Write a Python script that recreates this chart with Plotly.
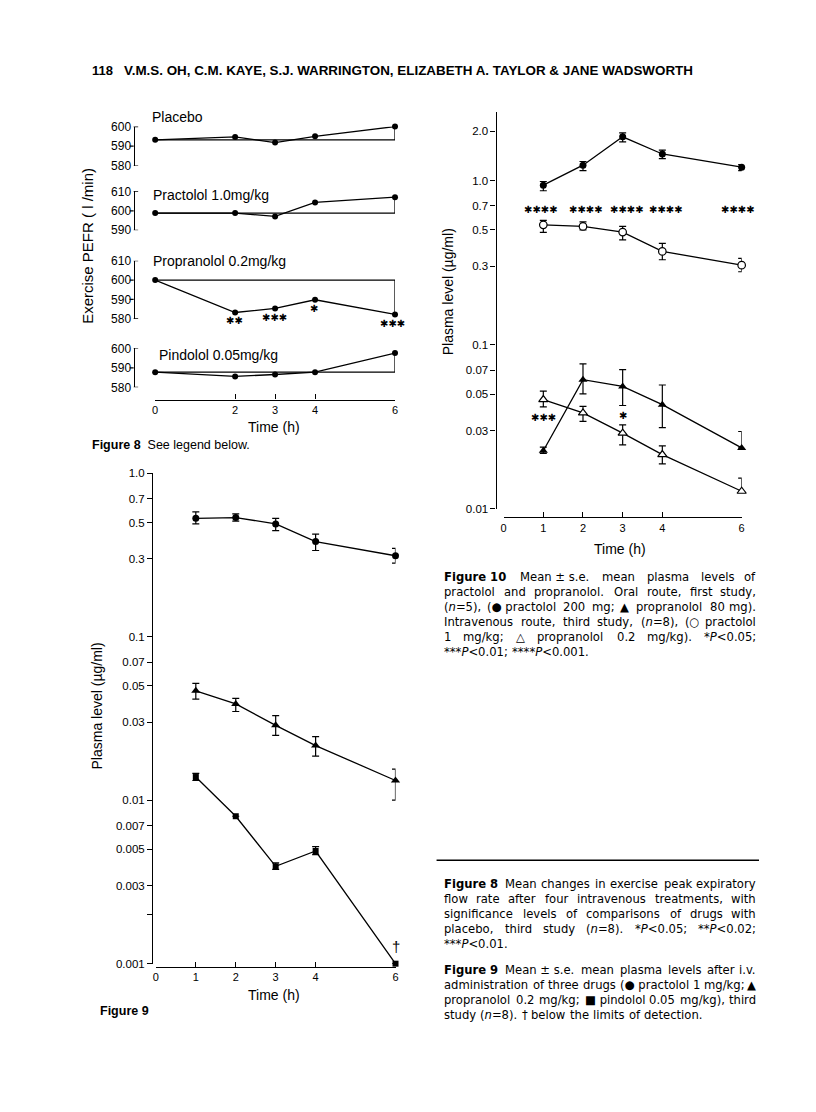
import plotly.graph_objects as go
import re

W, H = 816, 1112
# page-placement correction measured from a test frame (render = A + B * intended)
AX, BX = 4.03, 0.9913
AY, BY = 6.05, 0.9882
def px(x): return ((x - AX) / BX) / W
def py(y): return 1 - ((y - AY) / BY) / H

FONT = "Liberation Sans, Arial, sans-serif"
CAPFONT = "DejaVu Sans"
SYM = "DejaVu Sans"

# ---------------- Figure 8 data (PEFR, l/min) ----------------
t8 = [0, 2, 3, 4, 6]
pefr_titles = ["Placebo", "Practolol 1.0mg/kg", "Propranolol 0.2mg/kg", "Pindolol 0.05mg/kg"]
pefr_placebo = [593.2, 594.7, 591.8, 595.0, 600.0]
pefr_practolol = [598.8, 598.8, 597.1, 604.3, 607.0]
pefr_propranolol = [600.0, 583.2, 585.3, 589.8, 582.2]
pefr_pindolol = [587.8, 585.6, 586.6, 587.8, 597.6]
pefr_ranges = [[580, 600], [590, 610], [580, 610], [580, 600]]
pefr_ticks = [[580, 590, 600], [590, 600, 610], [580, 590, 600, 610], [580, 590, 600]]
t8_ticks = [0, 2, 3, 4, 6]
prop_sig_labels = ["**", "***", "*", "***"]

# ---------------- Figure 9 data (plasma, ug/ml, i.v.) ----------------
t9 = [1, 2, 3, 4, 6]
f9_prac = [0.53, 0.536, 0.49, 0.382, 0.313]
f9_prac_hi = [0.58, 0.565, 0.53, 0.424, 0.347]
f9_prac_lo = [0.49, 0.51, 0.446, 0.337, 0.282]
f9_prop = [0.0467, 0.0388, 0.0287, 0.0216, 0.0132]
f9_prop_hi = [0.0519, 0.042, 0.0329, 0.0245, 0.0155]
f9_prop_lo = [0.0415, 0.0349, 0.0249, 0.0186, 0.0100]
f9_pind = [0.01386, 0.00798, 0.00394, 0.00489, 0.001]
f9_pind_hi = [0.0146, 0.00798, 0.00414, 0.0052, 0.001]
f9_pind_lo = [0.0132, 0.00798, 0.00378, 0.00465, 0.001]
f9_ticks = [1.0, 0.7, 0.5, 0.3, 0.1, 0.07, 0.05, 0.03, 0.01, 0.007, 0.005, 0.003, 0.002, 0.001]
f9_ticktext = ["1.0", "0.7", "0.5", "0.3", "0.1", "0.07", "0.05", "0.03", "0.01", "0.007", "0.005", "0.003", "", "0.001"]
t9_ticks = [0, 1, 2, 3, 4, 6]

# ---------------- Figure 10 data ----------------
t10 = [1, 2, 3, 4, 6]
oral_prac = [0.937, 1.24, 1.845, 1.45, 1.206]
oral_prac_hi = [0.986, 1.305, 1.95, 1.53, 1.25]
oral_prac_lo = [0.866, 1.15, 1.72, 1.36, 1.15]
iv_prac = [0.537, 0.525, 0.485, 0.370, 0.305]
iv_prac_hi = [0.571, 0.56, 0.525, 0.414, 0.335]
iv_prac_lo = [0.483, 0.50, 0.435, 0.329, 0.278]
oral_prop = [0.0226, 0.0612, 0.0557, 0.0431, 0.0235]
oral_prop_hi = [0.0238, 0.0763, 0.0705, 0.0568, 0.0296]
oral_prop_lo = [0.0218, 0.0501, 0.0426, 0.0312, 0.0235]
iv_prop = [0.0463, 0.0384, 0.0289, 0.0214, 0.0128]
iv_prop_hi = [0.0521, 0.0421, 0.0325, 0.0242, 0.0154]
iv_prop_lo = [0.0418, 0.0341, 0.0245, 0.0188, 0.0128]
f10_ticks = [2.0, 1.0, 0.7, 0.5, 0.3, 0.1, 0.07, 0.05, 0.03, 0.01]
f10_ticktext = ["2.0", "1.0", "0.7", "0.5", "0.3", "0.1", "0.07", "0.05", "0.03", "0.01"]
t10_ticks = [0, 1, 2, 3, 4, 6]
prac_sig_times = [1, 2, 3, 4, 6]
prop_sig10_labels = ["***", "*"]
prop_sig10_times = [1, 3]

# ---------------- caption texts (token lists) ----------------
cap10 = [["<b>Figure 10</b>", "Mean ± s.e.", "mean", "plasma", "levels", "of"],
         ["practolol", "and", "propranolol.", "Oral", "route,", "first", "study,"],
         ["(<i>n</i>=5),", "(● practolol", "200", "mg;", "▲", "propranolol", "80", "mg)."],
         ["Intravenous", "route,", "third", "study,", "(<i>n</i>=8),", "(○", "practolol"],
         ["1", "mg/kg;", "△", "propranolol", "0.2", "mg/kg).", "*<i>P</i>&lt;0.05;"],
         ["***<i>P</i>&lt;0.01;", "****<i>P</i>&lt;0.001."]]
cap8 = [["<b>Figure 8</b>", "Mean", "changes", "in", "exercise", "peak", "expiratory"],
        ["flow", "rate", "after", "four", "intravenous", "treatments,", "with"],
        ["significance", "levels", "of", "comparisons", "of", "drugs", "with"],
        ["placebo,", "third", "study", "(<i>n</i>=8).", "*<i>P</i>&lt;0.05;", "**<i>P</i>&lt;0.02;"],
        ["***<i>P</i>&lt;0.01."]]
cap9 = [["<b>Figure 9</b>", "Mean ± s.e.", "mean", "plasma", "levels", "after", "i.v."],
        ["administration", "of", "three", "drugs", "(● practolol", "1", "mg/kg;", "▲"],
        ["propranolol", "0.2", "mg/kg;", "■ pindolol", "0.05", "mg/kg),", "third"],
        ["study", "(<i>n</i>=8).", "†", "below", "the", "limits", "of", "detection."]]

fig = go.Figure()
LW = 1.3

def err(mean, hi, lo):
    return dict(type="data", symmetric=False,
                array=[h - m for h, m in zip(hi, mean)],
                arrayminus=[m - l for m, l in zip(mean, lo)],
                color="black", thickness=1.2, width=3.5)

# ---------- Figure 8 traces ----------
pefr_series = [pefr_placebo, pefr_practolol, pefr_propranolol, pefr_pindolol]
ynames = ["y", "y2", "y3", "y4"]
for vals, yn in zip(pefr_series, ynames):
    fig.add_trace(go.Scatter(x=[t8[0], t8[-1], t8[-1]], y=[vals[0], vals[0], vals[-1]],
                             mode="lines", line=dict(color="black", width=LW),
                             xaxis="x", yaxis=yn, hoverinfo="skip", cliponaxis=False))
    fig.add_trace(go.Scatter(x=t8, y=vals, mode="lines+markers",
                             line=dict(color="black", width=LW),
                             marker=dict(symbol="circle", size=6, color="black"),
                             xaxis="x", yaxis=yn, cliponaxis=False))

# ---------- Figure 9 traces ----------
fig.add_trace(go.Scatter(x=t9, y=f9_prac, mode="lines+markers", line=dict(color="black", width=LW),
                         marker=dict(symbol="circle", size=7, color="black"),
                         error_y=err(f9_prac, f9_prac_hi, f9_prac_lo), xaxis="x5", yaxis="y5", cliponaxis=False))
fig.add_trace(go.Scatter(x=t9, y=f9_prop, mode="lines+markers", line=dict(color="black", width=LW),
                         marker=dict(symbol="triangle-up", size=8, color="black"),
                         error_y=err(f9_prop, f9_prop_hi, f9_prop_lo), xaxis="x5", yaxis="y5", cliponaxis=False))
fig.add_trace(go.Scatter(x=t9, y=f9_pind, mode="lines+markers", line=dict(color="black", width=LW),
                         marker=dict(symbol="square", size=6, color="black"),
                         error_y=err(f9_pind, f9_pind_hi, f9_pind_lo), xaxis="x5", yaxis="y5", cliponaxis=False))

# ---------- Figure 10 traces ----------
fig.add_trace(go.Scatter(x=t10, y=oral_prac, mode="lines+markers", line=dict(color="black", width=LW),
                         marker=dict(symbol="circle", size=7, color="black"),
                         error_y=err(oral_prac, oral_prac_hi, oral_prac_lo), xaxis="x6", yaxis="y6", cliponaxis=False))
fig.add_trace(go.Scatter(x=t10, y=iv_prac, mode="lines+markers", line=dict(color="black", width=LW),
                         marker=dict(symbol="circle", size=7.5, color="white", line=dict(color="black", width=1.2)),
                         error_y=err(iv_prac, iv_prac_hi, iv_prac_lo), xaxis="x6", yaxis="y6", cliponaxis=False))
fig.add_trace(go.Scatter(x=t10, y=oral_prop, mode="lines+markers", line=dict(color="black", width=LW),
                         marker=dict(symbol="triangle-up", size=8, color="black"),
                         error_y=err(oral_prop, oral_prop_hi, oral_prop_lo), xaxis="x6", yaxis="y6", cliponaxis=False))
fig.add_trace(go.Scatter(x=t10, y=iv_prop, mode="lines+markers", line=dict(color="black", width=LW),
                         marker=dict(symbol="triangle-up", size=8, color="white", line=dict(color="black", width=1.2)),
                         error_y=err(iv_prop, iv_prop_hi, iv_prop_lo), xaxis="x6", yaxis="y6", cliponaxis=False))

# ---------- axes ----------
tickfont = dict(family=FONT, size=11.5, color="black")
def xax(dom_l, dom_r, ypos, tickvals):
    return dict(domain=[px(dom_l), px(dom_r)], range=[0, 6], anchor="free", position=py(ypos),
                showline=True, linecolor="black", linewidth=LW, ticks="inside", ticklen=5,
                tickcolor="black", tickwidth=1.2, tickvals=tickvals, ticktext=[str(v) for v in tickvals],
                showgrid=False, zeroline=False, tickfont=dict(family=FONT, size=11, color="black"),
                fixedrange=True)

layout = dict(width=W, height=H, margin=dict(l=0, r=0, t=0, b=0), paper_bgcolor="white",
              plot_bgcolor="rgba(0,0,0,0)", showlegend=False, font=dict(family=FONT, color="black"))
layout["xaxis"] = xax(156, 395.5, 399, t8_ticks)
layout["xaxis5"] = xax(156.7, 396, 966.7, t9_ticks)
layout["xaxis6"] = xax(504, 741.7, 516.7, t10_ticks)

f8_pix = [(164.7, 125.7), (229.5, 190.5), (318.0, 260.0), (386.7, 347.7)]
F8_YX = 134.5
for yn, rg, tv, (pb, pt) in zip(ynames, pefr_ranges, pefr_ticks, f8_pix):
    key = "yaxis" if yn == "y" else "yaxis" + yn[1:]
    layout[key] = dict(domain=[py(pb), py(pt)], range=rg, anchor="free", position=px(F8_YX),
                       showline=True, linecolor="black", linewidth=LW, ticks="", tickvals=tv,
                       ticktext=[str(v) for v in tv], showgrid=False, zeroline=False,
                       tickfont=dict(family=FONT, size=12, color="black"), fixedrange=True)

def logy(dom_b, dom_t, rng, xpos, tv, tt):
    return dict(type="log", domain=[py(dom_b), py(dom_t)], range=rng, anchor="free", position=px(xpos),
                showline=True, linecolor="black", linewidth=LW, ticks="outside", ticklen=5,
                tickcolor="black", tickwidth=1.2, tickvals=tv, ticktext=tt, showgrid=False,
                zeroline=False, tickfont=tickfont, fixedrange=True)

layout["yaxis5"] = logy(963.5, 472.7, [-3.0, 0.0], 153, f9_ticks, f9_ticktext)
layout["yaxis6"] = logy(508.3, 111, [-2.0, 0.418], 496, f10_ticks, f10_ticktext)

# ---------- shapes ----------
shapes = []
for yn, rg, tv in zip(ynames, pefr_ranges, pefr_ticks):
    for v in tv:
        if v in (rg[0], rg[1]):
            x0, x1 = F8_YX, F8_YX + 4.5
        else:
            x0, x1 = F8_YX - 4, F8_YX
        shapes.append(dict(type="line", xref="paper", yref=yn, x0=px(x0), x1=px(x1), y0=v, y1=v,
                           line=dict(color="black", width=1.2)))
shapes.append(dict(type="line", xref="paper", yref="paper", x0=px(437), x1=px(759), y0=py(860), y1=py(860),
                   line=dict(color="black", width=1.3)))
layout["shapes"] = shapes

# ---------- annotations ----------
ann = []
def txt(x, y, s, size=12, anchor="left", bold=False, family=FONT, angle=0, yanchor="middle"):
    ann.append(dict(x=px(x), y=py(y), xref="paper", yref="paper", text=("<b>%s</b>" % s) if bold else s,
                    showarrow=False, xanchor=anchor, yanchor=yanchor, textangle=angle, borderpad=0,
                    font=dict(family=family, size=size, color="black")))

# header
txt(92, 70, "118", size=13, bold=True)
txt(124, 70, "V.M.S. OH, C.M. KAYE, S.J. WARRINGTON, ELIZABETH A. TAYLOR &amp; JANE WADSWORTH", size=13.4, bold=True)

# figure 8 labels
title_pos = [(152, 116), (153, 194), (153, 260), (159, 354)]
for t, (x, y) in zip(pefr_titles, title_pos):
    txt(x, y, t, size=14)
txt(89, 245, "Exercise PEFR ( l /min)", size=15, anchor="center", angle=-90)
txt(275, 426, "Time (h)", size=14, anchor="center")
txt(92, 444, "<b>Figure 8</b>  See legend below.", size=12.5)

sig8_pos = [(235, 320), (275, 316.7), (315, 308), (393, 323.3)]
for lab, (x, y) in zip(prop_sig_labels, sig8_pos):
    txt(x, y, lab.replace("*", "✱"), size=10, anchor="center", family=SYM)

# figure 9 labels
txt(98, 706, "Plasma level (µg/ml)", size=14, anchor="center", angle=-90)
txt(275, 995, "Time (h)", size=14, anchor="center")
txt(100, 1011, "Figure 9", size=12.5, bold=True)
ann.append(dict(x=6, y=-2.896, xref="x5", yref="y5", text="†", showarrow=False,
                font=dict(family=FONT, size=15, color="black"), xanchor="center", yanchor="middle"))

# figure 10 labels
txt(448, 291, "Plasma level (µg/ml)", size=14, anchor="center", angle=-90)
txt(620, 548, "Time (h)", size=14, anchor="center")
sig10_dx = [-0.05, 0.08, 0.12, 0.08, -0.08]
for tt, dx in zip(prac_sig_times, sig10_dx):
    ann.append(dict(x=tt + dx, y=-0.174, xref="x6", yref="y6", text="✱✱✱✱", showarrow=False,
                    font=dict(family=SYM, size=10, color="black"), xanchor="center", yanchor="middle"))
for lab, tt, yy in zip(prop_sig10_labels, prop_sig10_times, [-1.446, -1.432]):
    ann.append(dict(x=tt, y=yy, xref="x6", yref="y6", text=lab.replace("*", "✱"), showarrow=False,
                    font=dict(family=SYM, size=10, color="black"), xanchor="center", yanchor="middle"))

# ---------- justified captions ----------
DJV = {' ': .318, '(': .390, ')': .390, '*': .500, '+': .838, ',': .318, '-': .361, '.': .318, '/': .337,
       ':': .337, ';': .337, '<': .838, '=': .838, '>': .838, '±': .838, '†': .500, 'µ': .636,
       '●': .80, '○': .80, '■': .80, '▲': .80, '△': .80}
for d in "0123456789":
    DJV[d] = .636
DJV.update(dict(zip("ABCDEFGHIJKLMNOPQRSTUVWXYZ",
                    [.684, .686, .698, .770, .632, .575, .775, .752, .295, .295, .656, .557, .863, .748, .787,
                     .603, .787, .695, .635, .611, .732, .684, .989, .685, .611, .685])))
DJV.update(dict(zip("abcdefghijklmnopqrstuvwxyz",
                    [.613, .635, .550, .635, .615, .352, .635, .634, .278, .278, .579, .278, .974, .634, .612,
                     .635, .635, .411, .521, .392, .634, .592, .818, .592, .592, .525])))

def text_w(s, size):
    bold_parts = re.findall(r"<b>(.*?)</b>", s)
    plain = re.sub(r"<b>.*?</b>", "", s)
    plain = re.sub(r"<[^>]+>", "", plain).replace("&lt;", "<").replace("&amp;", "&")
    w = sum(DJV.get(c, .6) for c in plain)
    for b in bold_parts:
        w += 1.17 * sum(DJV.get(c, .6) for c in b)
    return w * size * 1.02

CAP_L, CAP_R, CAP_SIZE = 443, 757, 11.6
def caption(lines, y0, step=15):
    for i, toks in enumerate(lines):
        y = y0 + step * i
        last = (i == len(lines) - 1)
        widths = [text_w(t, CAP_SIZE) for t in toks]
        if last or len(toks) < 2:
            gap = 0.318 * CAP_SIZE
        else:
            gap = (CAP_R - CAP_L - sum(widths)) / (len(toks) - 1)
        x = CAP_L
        for j, (t, w) in enumerate(zip(toks, widths)):
            if (not last) and j == len(toks) - 1 and j > 0:
                txt(CAP_R, y, t, size=CAP_SIZE, anchor="right", family=CAPFONT)
            else:
                txt(x, y, t, size=CAP_SIZE, anchor="left", family=CAPFONT)
            x += w + gap

caption(cap10, 577)
caption(cap8, 884)
caption(cap9, 970)

layout["annotations"] = ann
fig.update_layout(**layout)
fig.write_html("out.html", config={"displayModeBar": False},
               post_script="document.body.style.margin='0';document.body.style.overflow='hidden';")
